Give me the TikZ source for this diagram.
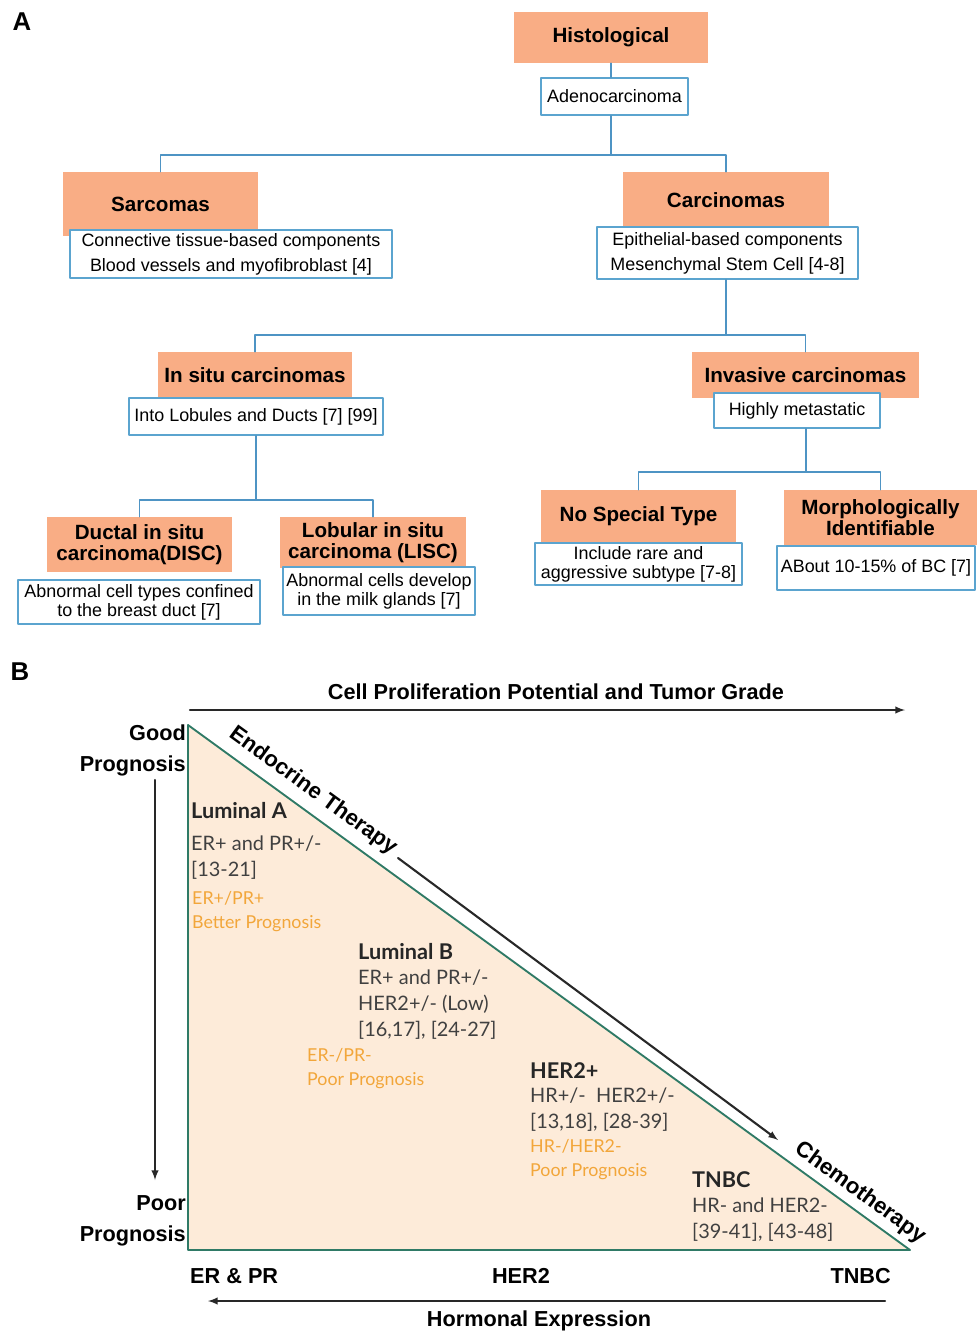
\documentclass[tikz,border=0pt]{standalone}
\usepackage{fontspec}
\setmainfont{Liberation Sans}
\newfontfamily\subfont{Lato}
\usetikzlibrary{arrows}

\definecolor{headfill}{RGB}{249,173,133}
\definecolor{boxblue}{RGB}{91,164,207}
\definecolor{linkblue}{RGB}{78,148,196}
\definecolor{trifill}{RGB}{253,235,217}
\definecolor{triedge}{RGB}{47,122,102}
\definecolor{bodygray}{RGB}{64,64,64}
\definecolor{noteorange}{RGB}{242,166,58}
\definecolor{axisgray}{RGB}{40,40,40}

\begin{document}
\begin{tikzpicture}[line cap=round,line join=round,x=0.03cm,y=-0.03cm,
  head/.style={fill=headfill, inner sep=0pt, align=center,
    font=\bfseries\fontsize{17.6}{18}\selectfont},
  info/.style={draw=boxblue, line width=1.2pt, fill=white, inner sep=0pt, align=center,
    font=\fontsize{15.3}{21.3}\selectfont},
  tight/.style={font=\fontsize{15.3}{16.2}\selectfont},
  link/.style={draw=linkblue, line width=1.2pt},
  panel/.style={font=\bfseries\fontsize{22}{24}\selectfont},
  bigbold/.style={inner sep=0pt, font=\bfseries\fontsize{18.5}{26.5}\selectfont},
  rotlabel/.style={inner sep=0pt, rotate=-36, font=\bfseries\fontsize{19}{20}\selectfont},
  axis/.style={draw=axisgray, line width=1.8pt, -latex},
  subname/.style={inner sep=0pt, anchor=west, text=black!85,
    font=\subfont\bfseries\fontsize{18.5}{20}\selectfont},
  subbody/.style={inner sep=0pt, anchor=west, align=left, text=bodygray,
    font=\subfont\fontsize{17}{22.2}\selectfont},
  subnote/.style={inner sep=0pt, anchor=west, align=left, text=noteorange,
    font=\subfont\fontsize{15.2}{20.5}\selectfont}]
\useasboundingbox (0,0) rectangle (977,1332);

% Panel A
\node[panel] (panelA) at (22,22) {A};
\node[head, minimum width=5.82cm, minimum height=1.53cm] (hist) at (611,37.5) {Histological};
\node[info, minimum width=4.41cm, minimum height=1.11cm] (adeno) at (614.5,96.5) {Adenocarcinoma};

% Sarcomas / Carcinomas
\node[head, minimum width=5.85cm, minimum height=1.92cm] (sarc) at (160.5,204) {Sarcomas};
\node[info, minimum width=9.66cm, minimum height=1.44cm] (sarcinfo) at (231,254)
  {Connective tissue-based components\\Blood vessels and myofibroblast [4]};
\node[head, minimum width=6.18cm, minimum height=1.68cm] (carc) at (726,200) {Carcinomas};
\node[info, minimum width=7.83cm, minimum height=1.56cm] (carcinfo) at (727.5,253)
  {Epithelial-based components\\Mesenchymal Stem Cell [4-8]};

% In situ / Invasive
\node[head, minimum width=5.82cm, minimum height=1.38cm] (insitu) at (255,375) {In situ carcinomas};
\node[info, minimum width=7.62cm, minimum height=1.11cm] (insituinfo) at (256,416.5)
  {Into Lobules and Ducts [7] [99]};
\node[head, minimum width=6.81cm, minimum height=1.38cm] (invasive) at (805.5,375) {Invasive carcinomas};
\node[info, minimum width=4.98cm, minimum height=1.05cm] (invinfo) at (797,410.5)
  {Highly metastatic};

% In situ subtypes
\node[head, minimum width=5.55cm, minimum height=1.65cm] (disc) at (139.5,544.5)
  {Ductal in situ\\carcinoma(DISC)};
\node[info, tight, minimum width=7.26cm, minimum height=1.32cm] (discinfo) at (139,602)
  {Abnormal cell types confined\\to the breast duct [7]};
\node[head, minimum width=5.58cm, minimum height=1.53cm] (lisc) at (373,542.5)
  {Lobular in situ\\carcinoma (LISC)};
\node[info, tight, minimum width=5.76cm, minimum height=1.44cm] (liscinfo) at (379,591)
  {Abnormal cells develop\\in the milk glands [7]};

% Invasive subtypes
\node[head, minimum width=5.85cm, minimum height=1.56cm] (nst) at (638.5,516) {No Special Type};
\node[info, tight, minimum width=6.21cm, minimum height=1.26cm] (nstinfo) at (638.5,564)
  {Include rare and\\aggressive subtype [7-8]};
\node[head, minimum width=5.79cm, minimum height=1.65cm] (morph) at (880.5,517.5)
  {Morphologically\\Identifiable};
\node[info, minimum width=5.94cm, minimum height=1.32cm] (morphinfo) at (876,568)
  {ABout 10-15\% of BC [7]};

% Tree links
\coordinate (split1) at (611,155);
\coordinate (split2) at (726,335);
\coordinate (split3) at (256,500);
\coordinate (split4) at (806,472);
\draw[link] (hist.south) -- (hist.south |- adeno.north);
\draw[link] (adeno.south -| split1) -- (split1) -| (sarc.north);
\draw[link] (split1) -| (carc.north);
\draw[link] (carcinfo.south -| split2) -- (split2) -| (insitu.north);
\draw[link] (split2) -| (invasive.north);
\draw[link] (insituinfo.south -| split3) -- (split3) -| (disc.north);
\draw[link] (split3) -| (lisc.north);
\draw[link] (invinfo.south -| split4) -- (split4) -| (nst.north);
\draw[link] (split4) -| (morph.north);

% Panel B
\node[panel] (panelB) at (20,672) {B};
\coordinate (apex) at (188,725);
\coordinate (corner) at (188,1250);
\coordinate (tip) at (910,1250);
\fill[trifill] (apex) -- (corner) -- (tip) -- cycle;
\draw[triedge, line width=1.6pt] (apex) -- (corner) -- (tip) -- cycle;

\node[bigbold] (grade) at (556,692) {Cell Proliferation Potential and Tumor Grade};
\node[bigbold, anchor=east, align=right] (good) at (186,750) {Good\\Prognosis};
\node[bigbold, anchor=east, align=right] (poor) at (186,1221) {Poor\\Prognosis};
\node[rotlabel] (endo) at (313,791) {Endocrine Therapy};
\node[rotlabel] (chemo) at (860,1193) {Chemotherapy};
\node[bigbold, anchor=west] (erpr) at (190,1276) {ER \& PR};
\node[bigbold] (her2) at (521,1276) {HER2};
\node[bigbold, anchor=east] (tnbc) at (891,1276) {TNBC};
\node[bigbold] (hormonal) at (539,1321) {Hormonal Expression};

% Axis arrows
\coordinate (gradeL) at (190,710);
\coordinate (gradeR) at (905,710);
\coordinate (progT) at (155,780);
\coordinate (progB) at (155,1180);
\coordinate (therT) at (398,858);
\coordinate (therB) at (778,1140);
\coordinate (hormR) at (885,1301);
\coordinate (hormL) at (208,1301);
\draw[axis] (gradeL) -- (gradeR);
\draw[axis] (progT) -- (progB);
\draw[axis] (therT) -- (therB);
\draw[axis] (hormR) -- (hormL);

% Subtypes
\node[subname] (luma) at (191,811) {Luminal A};
\node[subbody] (lumabody) at (191,858) {ER+ and PR+/-\\{[13-21]}};
\node[subnote] (lumanote) at (192,912) {ER+/PR+\\Better Prognosis};
\node[subname] (lumb) at (358,952) {Luminal B};
\node[subbody] (lumbbody) at (358,1005) {ER+ and PR+/-\\HER2+/- (Low)\\{[16,17], [24-27]}};
\node[subnote] (lumbnote) at (307,1069) {ER-/PR-\\Poor Prognosis};
\node[subname] (her2p) at (530,1071) {HER2+};
\node[subbody] (her2body) at (530,1109.5) {HR+/-~ HER2+/-\\{[13,18], [28-39]}};
\node[subnote] (her2note) at (530,1160) {HR-/HER2-\\Poor Prognosis};
\node[subname] (tnbcname) at (692,1180) {TNBC};
\node[subbody] (tnbcbody) at (692,1220) {HR- and HER2-\\{[39-41], [43-48]}};
\end{tikzpicture}
\end{document}
